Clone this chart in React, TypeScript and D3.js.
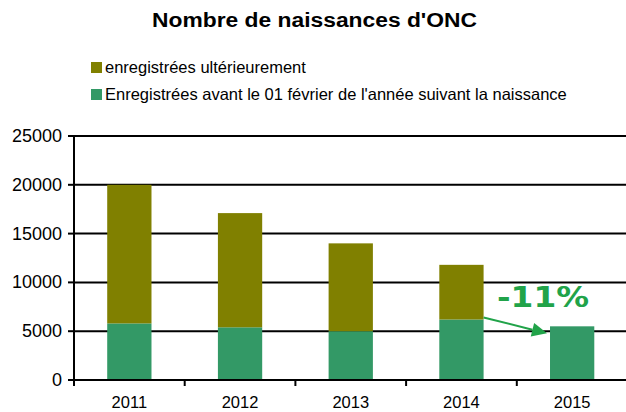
import React from "react";
import * as d3 from "d3";

const years = ["2011", "2012", "2013", "2014", "2015"];
const avant = [5800, 5400, 5000, 6200, 5500];
const ulterieur = [14200, 11700, 9000, 5600, 0];
const yTicks = [0, 5000, 10000, 15000, 20000, 25000];
const seriesNames = ["enregistrées ultérieurement", "Enregistrées avant le 01 février de l'année suivant la naissance"];
const colors = ["#808000", "#339966"];
const annotation = "-11%";

export default function App() {
  const W = 626, H = 412;
  const x = d3.scaleBand<string>().domain(years).range([74, 627.5]).paddingInner(0.6).paddingOuter(0.3);
  const xb = d3.scaleBand<string>().domain(years).range([74, 627.5]);
  const y = d3.scaleLinear().domain([0, 25000]).range([380, 136]);
  const font = "Liberation Sans, Arial, sans-serif";
  const a0 = years.indexOf("2014"), a1 = years.indexOf("2015");
  const ax0 = (x(years[a0]) as number) + x.bandwidth() + 0;
  const ay0 = y(avant[a0]) - 2;
  const ax1 = (x(years[a1]) as number) - 3;
  const ay1 = y(avant[a1]) + 7;
  const ang = Math.atan2(ay1 - ay0, ax1 - ax0);
  const hl = 15, hw = 7;
  const bx = ax1 - hl * Math.cos(ang), by = ay1 - hl * Math.sin(ang);
  const head = `${ax1},${ay1} ${bx - hw * Math.sin(ang)},${by + hw * Math.cos(ang)} ${bx + hw * Math.sin(ang)},${by - hw * Math.cos(ang)}`;
  return (
    <svg width={W} height={H} style={{ position: "absolute", left: 0, top: 0, background: "#fff" }}>
      <text x={152} y={27} fontFamily={font} fontWeight="bold" fontSize={20} textLength={325} lengthAdjust="spacingAndGlyphs">Nombre de naissances d'ONC</text>
      {seriesNames.map((s, i) => (
        <g key={s}>
          <rect x={91} y={62 + i * 27} width={11} height={11} fill={colors[i]} />
          <text x={105} y={73 + i * 27} fontFamily={font} fontSize={16.5}>{s}</text>
        </g>
      ))}
      {yTicks.map(t => (
        <g key={t}>
          {t > 0 && <line x1={74} x2={628} y1={y(t)} y2={y(t)} stroke="#000" strokeWidth={2} />}
          <line x1={68} x2={74} y1={y(t)} y2={y(t)} stroke="#000" strokeWidth={2} />
          <text x={62} y={y(t) + 6} textAnchor="end" fontFamily={font} fontSize={18}>{t}</text>
        </g>
      ))}
      {years.map((yr, i) => (
        <g key={yr}>
          <rect x={x(yr)} y={y(avant[i])} width={x.bandwidth()} height={y(0) - y(avant[i])} fill={colors[1]} />
          {ulterieur[i] > 0 && <rect x={x(yr)} y={y(avant[i] + ulterieur[i])} width={x.bandwidth()} height={y(avant[i]) - y(avant[i] + ulterieur[i])} fill={colors[0]} />}
          <text x={(xb(yr) as number) + xb.bandwidth() / 2} y={408} textAnchor="middle" fontFamily={font} fontSize={16.5}>{yr}</text>
        </g>
      ))}
      <line x1={74} x2={74} y1={136} y2={381} stroke="#000" strokeWidth={2} />
      <line x1={68} x2={628} y1={380} y2={380} stroke="#000" strokeWidth={2} />
      {years.map((yr) => (
        <line key={"t" + yr} x1={(xb(yr) as number) + xb.bandwidth()} x2={(xb(yr) as number) + xb.bandwidth()} y1={380} y2={386} stroke="#000" strokeWidth={2} />
      ))}
      <line x1={74} x2={74} y1={380} y2={386} stroke="#000" strokeWidth={2} />
      <line x1={ax0} y1={ay0} x2={bx} y2={by} stroke="#21a349" strokeWidth={2} />
      <polygon points={head} fill="#21a349" />
      <text x={497} y={307} fontFamily="DejaVu Sans, Verdana, sans-serif" fontWeight="bold" fontSize={29} textLength={92} lengthAdjust="spacingAndGlyphs" fill="#21a349">{annotation}</text>
    </svg>
  );
}
